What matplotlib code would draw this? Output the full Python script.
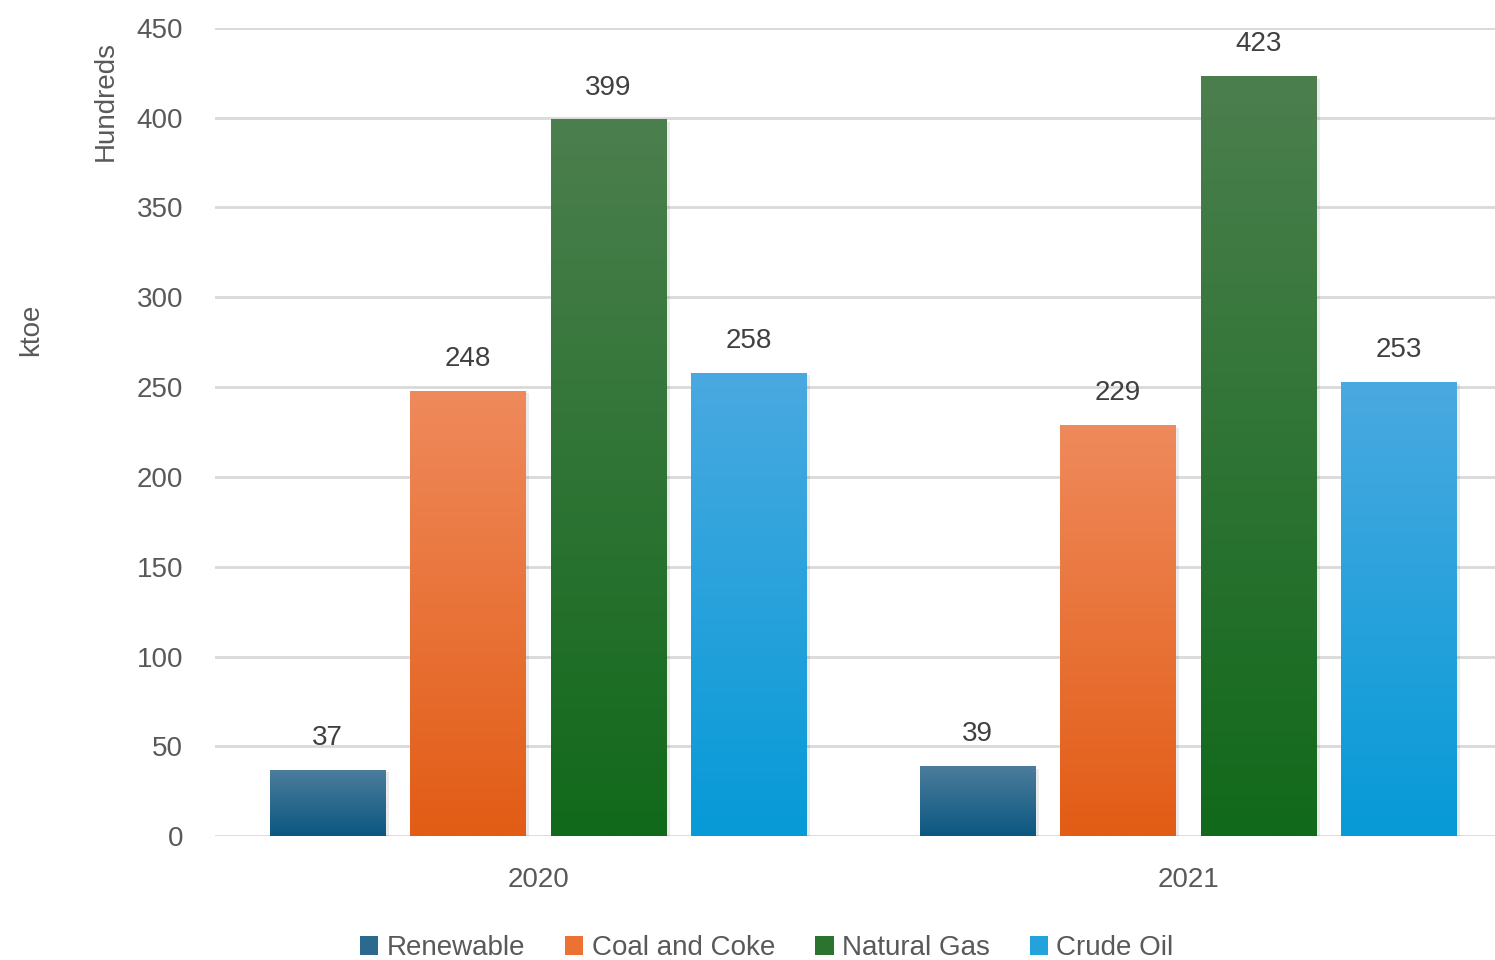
import numpy as np
import matplotlib
matplotlib.use("Agg")
import matplotlib.pyplot as plt
from matplotlib.colors import LinearSegmentedColormap
from matplotlib.patches import Patch

# data (hundreds of ktoe)
years = ["2020", "2021"]
sources = ["Renewable", "Coal and Coke", "Natural Gas", "Crude Oil"]
renewable = [37, 39]
coal = [248, 229]
gas = [399, 423]
crude = [258, 253]
series = [renewable, coal, gas, crude]

# top / bottom colours of the gradient fill
tops = ["#4d7d9c", "#ef8a5c", "#4c7f4e", "#4aa9e0"]
bottoms = ["#0b5781", "#e25c15", "#11691b", "#069ad7"]
mids = ["#2b6a8e", "#eb7232", "#2a7430", "#23a2dc"]

plt.rcParams['font.family'] = ['Liberation Sans', 'DejaVu Sans']
grey = "#595959"

fig = plt.figure(figsize=(14.95, 9.6), dpi=100)
ax = fig.add_axes([0.1438, 0.129, 0.8562, 0.842])

x = np.arange(len(years))
width = 0.177
pitch = 0.216
offsets = (np.arange(len(sources)) - 1.5) * pitch

grad = np.linspace(0, 1, 256).reshape(-1, 1)
for i, vals in enumerate(series):
    bars = ax.bar(x + offsets[i], vals, width, color=mids[i], zorder=3)
    cmap = LinearSegmentedColormap.from_list("g%d" % i, [bottoms[i], tops[i]])
    for b, v in zip(bars, vals):
        bx, bw = b.get_x(), b.get_width()
        # soft shadow
        ax.bar(bx + bw / 2 + 0.003, v, bw + 0.006, bottom=-1.5,
               color="#000000", alpha=0.08, zorder=2.5)
        im = ax.imshow(grad, extent=[bx, bx + bw, 0, v], origin="lower",
                       cmap=cmap, aspect="auto", zorder=3.5)
        im.set_clip_path(b)
        ax.text(bx + bw / 2, v + 10.5, str(v), ha="center", va="bottom",
                fontsize=20, color="#404040", zorder=5)

ax.set_xlim(-0.497, 1.472)
ax.set_ylim(0, 450)
ax.set_yticks(np.arange(0, 451, 50))
ax.set_xticks(x)
ax.set_xticklabels(years)
ax.yaxis.grid(True, color="#d9d9d9", linewidth=2)
ax.set_axisbelow(True)
for s in ax.spines.values():
    s.set_visible(False)
ax.tick_params(axis="both", length=0, labelsize=20, labelcolor=grey)
ax.tick_params(axis="y", pad=23)
ax.tick_params(axis="x", pad=22)

fig.text(0.071, 0.895, "Hundreds", rotation=90, ha="center", va="center",
         fontsize=20, color=grey)
fig.text(0.021, 0.656, "ktoe", rotation=90, ha="center", va="center",
         fontsize=20, color=grey)

handles = [Patch(facecolor=mids[i], label=sources[i]) for i in range(len(sources))]
fig.legend(handles=handles, loc="center", bbox_to_anchor=(0.513, 0.012),
           ncol=4, frameon=False, handlelength=0.65,
           handleheight=0.65, handletextpad=0.3, columnspacing=1.45,
           labelcolor=grey, prop={'size': 20})

fig.savefig("out.png", dpi=100)
